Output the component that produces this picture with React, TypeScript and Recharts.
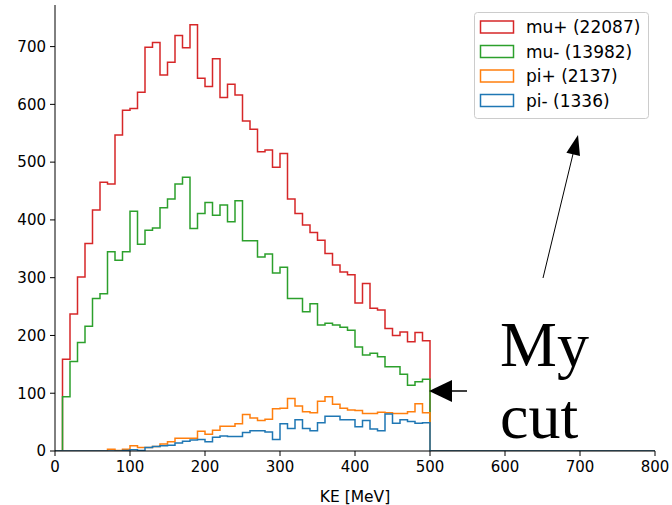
import { LineChart, Line, XAxis, YAxis } from 'recharts';

// bin start edges (KE, MeV), 10 MeV bins; the histogram is closed at 500 and runs flat to 800
const binEdges = [
  0, 10, 20, 30, 40, 50, 60, 70, 80, 90,
  100, 110, 120, 130, 140, 150, 160, 170, 180, 190,
  200, 210, 220, 230, 240, 250, 260, 270, 280, 290,
  300, 310, 320, 330, 340, 350, 360, 370, 380, 390,
  400, 410, 420, 430, 440, 450, 460, 470, 480, 490,
];
const cutEdge = 500;
const axisEnd = 800;

const muPlus = [
  0, 159, 237, 301, 359, 417, 465, 462, 547, 590,
  593, 621, 699, 707, 651, 673, 719, 698, 738, 645,
  631, 679, 612, 635, 616, 571, 557, 518, 521, 491,
  515, 436, 411, 391, 378, 365, 342, 322, 310, 305,
  256, 290, 247, 244, 212, 200, 206, 189, 205, 191,
];
const muMinus = [
  0, 94, 155, 188, 216, 264, 272, 345, 330, 345,
  415, 358, 382, 386, 421, 436, 462, 474, 385, 411,
  430, 408, 426, 397, 433, 364, 364, 336, 341, 308,
  318, 264, 264, 241, 255, 218, 221, 218, 214, 209,
  180, 166, 169, 163, 146, 146, 133, 114, 120, 124,
];
const piPlus = [
  0, 0, 0, 0, 0, 0, 0, 3, 1, 3,
  9, 6, 6, 8, 12, 16, 22, 22, 22, 34,
  29, 36, 43, 43, 47, 63, 57, 53, 55, 73,
  74, 91, 78, 68, 66, 86, 94, 81, 74, 71,
  70, 65, 65, 67, 66, 65, 65, 68, 82, 66,
];
const piMinus = [
  0, 0, 0, 0, 0, 0, 0, 0, 0, 1,
  2, 1, 6, 8, 9, 10, 14, 17, 19, 20,
  16, 24, 26, 25, 25, 32, 35, 35, 33, 20,
  47, 39, 54, 39, 35, 49, 60, 60, 54, 54,
  42, 53, 38, 35, 64, 48, 54, 51, 48, 49,
];

const xTicks = [0, 100, 200, 300, 400, 500, 600, 700, 800];
const yTicks = [0, 100, 200, 300, 400, 500, 600, 700];

const series = [
  { key: 'muPlus', label: 'mu+ (22087)', color: '#d62728' },
  { key: 'muMinus', label: 'mu- (13982)', color: '#2ca02c' },
  { key: 'piPlus', label: 'pi+ (2137)', color: '#ff7f0e' },
  { key: 'piMinus', label: 'pi- (1336)', color: '#1f77b4' },
];

const data = [
  ...binEdges.map((ke, i) => ({
    ke, muPlus: muPlus[i], muMinus: muMinus[i], piPlus: piPlus[i], piMinus: piMinus[i],
  })),
  { ke: cutEdge, muPlus: 0, muMinus: 0, piPlus: 0, piMinus: 0 },
  { ke: axisEnd, muPlus: 0, muMinus: 0, piPlus: 0, piMinus: 0 },
];

const FONT = '"DejaVu Sans", sans-serif';
const tick = { fontSize: 15, fill: '#000', fontFamily: FONT };

function Overlay() {
  const rows = [27, 51.5, 76, 100.5];
  return (
    <svg width={672} height={505} style={{ position: 'absolute', left: 0, top: 0, pointerEvents: 'none' }}>
      <rect x={474.5} y={12.5} width={174} height={106} rx={3} fill="#fff" fillOpacity={0.8} stroke="#cccccc" />
      {series.map((s, i) => (
        <g key={s.key}>
          <rect x={480.5} y={rows[i] - 6} width={33} height={12} fill="none" stroke={s.color} strokeWidth={1.5} />
          <text x={526} y={rows[i]} dominantBaseline="central" fontSize={17} fontFamily={FONT} fill="#000">{s.label}</text>
        </g>
      ))}
      <polygon points="429,391 452,380 452,402" fill="#000" />
      <line x1={451} y1={391} x2={467} y2={391} stroke="#000" strokeWidth={1.5} />
      <line x1={543} y1={278} x2={573} y2={154} stroke="#000" strokeWidth={1} />
      <polygon points="578,135 580,156 566.4,152.7" fill="#000" />
      <text x={500} y={366} fontSize={64} fontFamily='"Liberation Serif", serif' fill="#000">My</text>
      <text x={500} y={438} fontSize={64} fontFamily='"Liberation Serif", serif' fill="#000">cut</text>
    </svg>
  );
}

export default function App() {
  return (
    <div style={{ position: 'absolute', left: 0, top: 0, width: 672, height: 505, background: '#fff' }}>
      <LineChart width={672} height={505} data={data} margin={{ top: 5, right: 17, left: 0, bottom: 0 }}>
        <XAxis dataKey="ke" type="number" domain={[0, 800]} ticks={xTicks} allowDataOverflow
          height={54} tickSize={5} tickMargin={5} tick={tick} stroke="#000"
          label={{ value: 'KE [MeV]', position: 'insideBottom', offset: 3, fontSize: 15.5, fill: '#000', fontFamily: FONT }} />
        <XAxis xAxisId="top" orientation="top" type="number" domain={[0, 800]} height={0} tick={false} tickLine={false} stroke="#000" />
        <YAxis type="number" domain={[0, 772]} ticks={yTicks} allowDataOverflow width={55}
          tickSize={5} tickMargin={4} tick={tick} stroke="#000" />
        <YAxis yAxisId="right" orientation="right" domain={[0, 772]} width={0} tick={false} tickLine={false} stroke="#000" />
        {series.map(s => (
          <Line key={s.key} dataKey={s.key} type="stepAfter" stroke={s.color} strokeWidth={1.5}
            dot={false} activeDot={false} isAnimationActive={false} />
        ))}
      </LineChart>
      <Overlay />
    </div>
  );
}
